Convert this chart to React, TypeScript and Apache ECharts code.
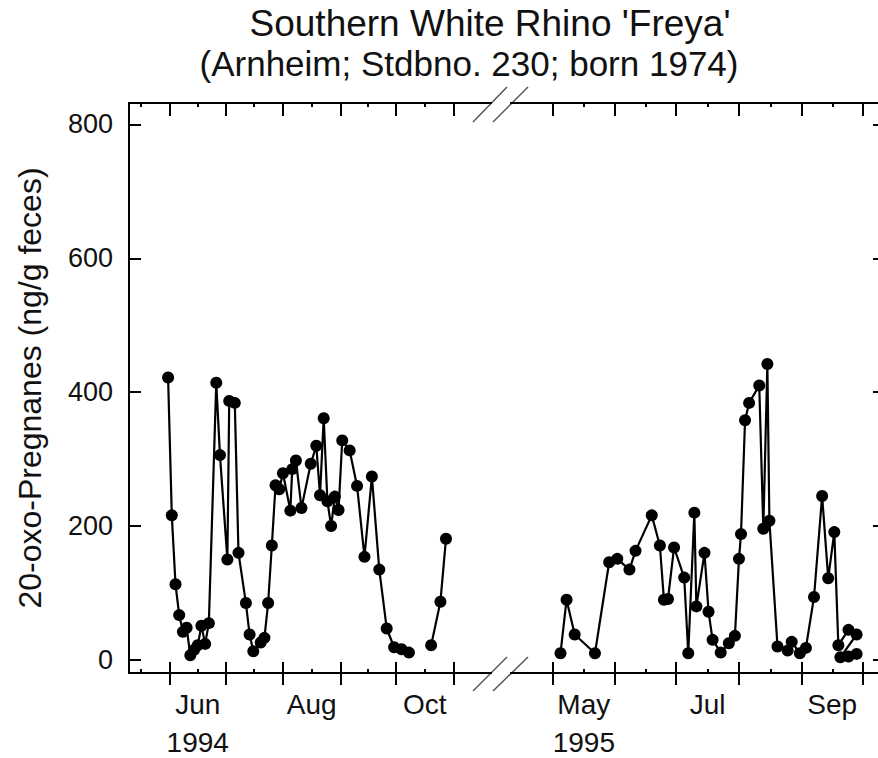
import React, { useEffect, useRef } from 'react';
import * as echarts from 'echarts';

// ---- data ----
const dates1994 = [
  '1994-05-31', '1994-06-02', '1994-06-04', '1994-06-06', '1994-06-08', '1994-06-10',
  '1994-06-12', '1994-06-14', '1994-06-16', '1994-06-18', '1994-06-20', '1994-06-22',
  '1994-06-26', '1994-06-28', '1994-07-02', '1994-07-03', '1994-07-06', '1994-07-08',
  '1994-07-12', '1994-07-14', '1994-07-16', '1994-07-20', '1994-07-22', '1994-07-24',
  '1994-07-26', '1994-07-28', '1994-07-30', '1994-08-01', '1994-08-05', '1994-08-06',
  '1994-08-08', '1994-08-11', '1994-08-16', '1994-08-19', '1994-08-21', '1994-08-23',
  '1994-08-25', '1994-08-27', '1994-08-29', '1994-08-31', '1994-09-02', '1994-09-06',
  '1994-09-10', '1994-09-14', '1994-09-18', '1994-09-22', '1994-09-26', '1994-09-30',
  '1994-10-04', '1994-10-08', '1994-10-20', '1994-10-25', '1994-10-28',
];
const values1994 = [
  422, 216, 113, 67, 42, 48,
  7, 15, 22, 51, 24, 55,
  414, 306, 150, 387, 384, 160,
  85, 38, 13, 26, 33, 85,
  171, 261, 255, 279, 223, 285,
  298, 227, 293, 320, 246, 361,
  237, 200, 244, 224, 328, 313,
  260, 154, 274, 135, 47, 19,
  16, 11, 22, 87, 181,
];
// the line is interrupted before these dates
const lineBreaks1994 = ['1994-10-20'];

const dates1995 = [
  '1995-05-05', '1995-05-08', '1995-05-12', '1995-05-22', '1995-05-29', '1995-06-02',
  '1995-06-08', '1995-06-11', '1995-06-19', '1995-06-23', '1995-06-25', '1995-06-27',
  '1995-06-30', '1995-07-05', '1995-07-07', '1995-07-10', '1995-07-11', '1995-07-15',
  '1995-07-17', '1995-07-19', '1995-07-23', '1995-07-27', '1995-07-30', '1995-08-01',
  '1995-08-02', '1995-08-04', '1995-08-06', '1995-08-11', '1995-08-13', '1995-08-15',
  '1995-08-16', '1995-08-20', '1995-08-25', '1995-08-27', '1995-08-31', '1995-09-03',
  '1995-09-07', '1995-09-11', '1995-09-14', '1995-09-17', '1995-09-19', '1995-09-24',
  '1995-09-28', '1995-09-20', '1995-09-24', '1995-09-28',
];
const values1995 = [
  10, 90, 38, 10, 146, 151,
  135, 163, 216, 171, 90, 91,
  168, 123, 10, 220, 80, 160,
  72, 30, 11, 25, 36, 151,
  188, 358, 384, 410, 196, 442,
  208, 20, 14, 27, 10, 18,
  94, 245, 122, 191, 22, 45,
  38, 4, 5, 9,
];

const yTickValues = [0, 200, 400, 600, 800];
const monthNames = ['Jan', 'Feb', 'Mar', 'Apr', 'May', 'Jun', 'Jul', 'Aug', 'Sep', 'Oct', 'Nov', 'Dec'];
const labelMonths1994 = [6, 8, 10];
const labelMonths1995 = [5, 7, 9];
const titleLines = ["Southern White Rhino 'Freya'", '(Arnheim; Stdbno. 230; born 1974)'];
const yAxisTitle = '20-oxo-Pregnanes (ng/g feces)';

// ---- helpers ----
const BASE = Date.UTC(1994, 0, 1);
const DAY = 86400000;
function dn(s: string): number {
  const [y, m, d] = s.split('-').map(Number);
  return (Date.UTC(y, m - 1, d) - BASE) / DAY;
}
function monthStart(y: number, m: number): number {
  return (Date.UTC(y, m - 1, 1) - BASE) / DAY;
}
function monthMid(y: number, m: number): number {
  return (monthStart(y, m) + monthStart(y, m + 1)) / 2;
}

const FONT = '"Liberation Sans", Arial, sans-serif';
const BLACK = '#000';
const TEXT = '#111';

function buildXAxes(
  gridIndex: number,
  year: number,
  min: number,
  max: number,
  majorMonths: number[],
  minorMonths: number[],
  labelMonths: number[],
) {
  const major = majorMonths.map((m) => monthStart(year, m));
  const minor = minorMonths.map((m) => monthMid(year, m));
  const labelVals = labelMonths.map((m) => monthMid(year, m));
  const line = { show: true, onZero: false, lineStyle: { color: BLACK, width: 2 } };
  const base = { type: 'value', gridIndex, min, max, splitLine: { show: false } };
  return [
    {
      ...base,
      position: 'bottom',
      axisLine: line,
      axisTick: { show: true, inside: true, length: 11, customValues: major, lineStyle: { color: BLACK, width: 2 } },
      axisLabel: { show: false },
    },
    {
      ...base,
      position: 'bottom',
      axisLine: line,
      axisTick: { show: true, inside: false, length: 12, customValues: major, lineStyle: { color: BLACK, width: 2 } },
      axisLabel: {
        show: true,
        customValues: labelVals,
        fontFamily: FONT,
        fontSize: 28,
        color: TEXT,
        margin: 12,
        lineHeight: 38,
        formatter: (v: number) => {
          const i = labelVals.findIndex((x) => Math.abs(x - v) < 0.01);
          if (i < 0) return '';
          const name = monthNames[labelMonths[i] - 1];
          return i === 0 ? name + '\n' + year : name;
        },
      },
    },
    {
      ...base,
      position: 'bottom',
      axisLine: line,
      axisTick: { show: true, inside: true, length: 4, customValues: minor, lineStyle: { color: BLACK, width: 2 } },
      axisLabel: { show: false },
    },
    {
      ...base,
      position: 'top',
      axisLine: line,
      axisTick: { show: true, inside: true, length: 13, customValues: major, lineStyle: { color: BLACK, width: 2 } },
      axisLabel: { show: false },
    },
    {
      ...base,
      position: 'top',
      axisLine: line,
      axisTick: { show: true, inside: true, length: 4, customValues: minor, lineStyle: { color: BLACK, width: 2 } },
      axisLabel: { show: false },
    },
  ];
}

function splitAtBreaks(dates: string[], values: number[], breaks: string[]) {
  const segs: number[][][] = [[]];
  dates.forEach((d, i) => {
    if (breaks.includes(d) && segs[segs.length - 1].length) segs.push([]);
    segs[segs.length - 1].push([dn(d), values[i]]);
  });
  return segs;
}

const Y_MIN = -19.5;
const Y_MAX = 832;

export default function App() {
  const ref = useRef<HTMLDivElement>(null);
  useEffect(() => {
    if (!ref.current) return;
    const chart = echarts.init(ref.current, undefined, { renderer: 'svg' });

    const min1 = monthStart(1994, 6) - 22.1;
    const max1 = monthStart(1994, 6) + 173.3;
    const min2 = monthStart(1995, 5) - 20.4;
    const max2 = monthStart(1995, 5) + 164;

    const xAxes = [
      ...buildXAxes(0, 1994, min1, max1, [6, 7, 8, 9, 10, 11], [5, 6, 7, 8, 9, 10], labelMonths1994),
      ...buildXAxes(1, 1995, min2, max2, [5, 6, 7, 8, 9, 10], [5, 6, 7, 8, 9], labelMonths1995),
    ];

    const lineStyleCommon = {
      type: 'line',
      symbol: 'circle',
      symbolSize: 12,
      lineStyle: { color: BLACK, width: 2.2 },
      itemStyle: { color: BLACK },
      clip: false,
    };

    const segs1994 = splitAtBreaks(dates1994, values1994, lineBreaks1994);
    const series: any[] = segs1994.map((data) => ({
      ...lineStyleCommon,
      xAxisIndex: 0,
      yAxisIndex: 0,
      data,
    }));
    series.push({
      ...lineStyleCommon,
      xAxisIndex: 5,
      yAxisIndex: 1,
      data: dates1995.map((d, i) => [dn(d), values1995[i]]),
    });

    const slash = (x1: number, y1: number, x2: number, y2: number) => ({
      type: 'line',
      shape: { x1, y1, x2, y2 },
      style: { stroke: '#555', lineWidth: 1.5 },
    });

    chart.setOption({
      animation: false,
      backgroundColor: '#fff',
      textStyle: { fontFamily: FONT },
      grid: [
        { left: 129, top: 103, width: 362, height: 570, outerBoundsMode: 'none', containLabel: false },
        { left: 511, top: 103, width: 374, height: 570, outerBoundsMode: 'none', containLabel: false },
      ],
      xAxis: xAxes,
      yAxis: [
        {
          type: 'value',
          gridIndex: 0,
          position: 'left',
          min: Y_MIN,
          max: Y_MAX,
          axisLine: { show: true, onZero: false, lineStyle: { color: BLACK, width: 2 } },
          axisTick: { show: true, inside: true, length: 12, customValues: yTickValues, lineStyle: { color: BLACK, width: 2 } },
          axisLabel: { show: true, customValues: yTickValues, fontFamily: FONT, fontSize: 27, color: TEXT, margin: 16 },
          splitLine: { show: false },
          name: yAxisTitle,
          nameLocation: 'middle',
          nameRotate: 90,
          nameGap: 83,
          nameTextStyle: { fontFamily: FONT, fontSize: 32, color: TEXT },
        },
        {
          type: 'value',
          gridIndex: 1,
          position: 'right',
          min: Y_MIN,
          max: Y_MAX,
          axisLine: { show: true, onZero: false, lineStyle: { color: BLACK, width: 2 } },
          axisTick: { show: true, inside: true, length: 12, customValues: yTickValues, lineStyle: { color: BLACK, width: 2 } },
          axisLabel: { show: false },
          splitLine: { show: false },
        },
      ],
      series,
      graphic: [
        {
          type: 'text',
          x: 490,
          y: 23,
          style: { text: titleLines[0], fontFamily: FONT, fontSize: 37, fill: TEXT, align: 'center', verticalAlign: 'middle' },
        },
        {
          type: 'text',
          x: 469,
          y: 63,
          style: { text: titleLines[1], fontFamily: FONT, fontSize: 35, fill: TEXT, align: 'center', verticalAlign: 'middle' },
        },
        slash(473, 122, 507, 87),
        slash(493, 122, 528, 87),
        slash(473, 691, 507, 657),
        slash(493, 691, 528, 657),
      ],
    });
    return () => chart.dispose();
  }, []);

  return (
    <div
      ref={ref}
      style={{ position: 'absolute', left: 0, top: 0, width: 878, height: 758, background: '#fff' }}
    />
  );
}
